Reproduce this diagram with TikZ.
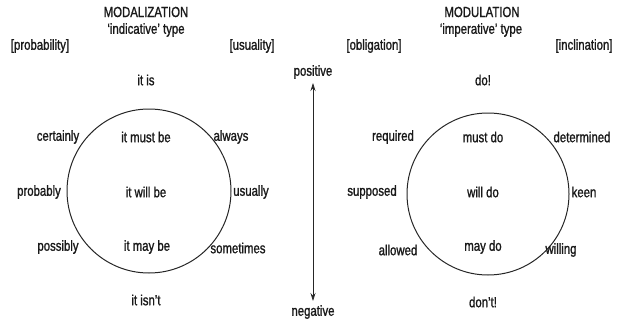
\documentclass[tikz,border=0pt]{standalone}
\usepackage{fontspec}
\setmainfont[FakeStretch=0.78,FakeBold=1.2]{Liberation Sans}
\usepackage{tikz}
\usetikzlibrary{arrows.meta}

\begin{document}
\begin{tikzpicture}[x=1pt,y=-1pt]
\tikzstyle{every node}=[font=\fontsize{14.6}{16}\selectfont,text=black!90,inner sep=1pt];
\tikzstyle{ring}=[draw=black!85,line width=1pt];
\useasboundingbox (0,0) rectangle (618,321);

% modalization
\node (modz) at (146,12) {MODALIZATION};
\node (indic) at (146,30) {`indicative' type};
\node (prob) at (40,46) {[probability]};
\node (usual) at (252,46) {[usuality]};
\node (itis) at (146,80) {it is};
\draw[ring] (149,191) circle (82);
\node (certainly) at (58,137) {certainly};
\node (mustbe) at (146,137) {it must be};
\node (always) at (231,137) {always};
\node (probably) at (39,192) {probably};
\node (willbe) at (146,192) {it will be};
\node (usually) at (251,192) {usually};
\node (possibly) at (58,247) {possibly};
\node (maybe) at (147,247) {it may be};
\node (sometimes) at (238,248) {sometimes};
\node (itisnt) at (146,300) {it isn't};

% polarity
\node (pos) at (313,72) {positive};
\node (neg) at (313,312) {negative};
\draw[black!85,line width=0.7pt,shorten <=3pt,shorten >=3pt,{Stealth[length=8pt,width=5pt]}-{Stealth[length=8pt,width=5pt]}] (pos) -- (neg);

% modulation
\node (modn) at (482,12) {MODULATION};
\node (imper) at (481,30) {`imperative' type};
\node (oblig) at (374,46) {[obligation]};
\node (inclin) at (584,46) {[inclination]};
\node (doit) at (483,80) {do!};
\draw[ring] (488,194) circle (81);
\node (required) at (393,137) {required};
\node (mustdo) at (483,137) {must do};
\node (determined) at (582,137) {determined};
\node (supposed) at (372,192) {supposed};
\node (willdo) at (483,192) {will do};
\node (keen) at (584,192) {keen};
\node (allowed) at (398,250) {allowed};
\node (maydo) at (483,247) {may do};
\node (willing) at (561,250) {willing};
\node (dont) at (483,302) {don't!};
\end{tikzpicture}
\end{document}
